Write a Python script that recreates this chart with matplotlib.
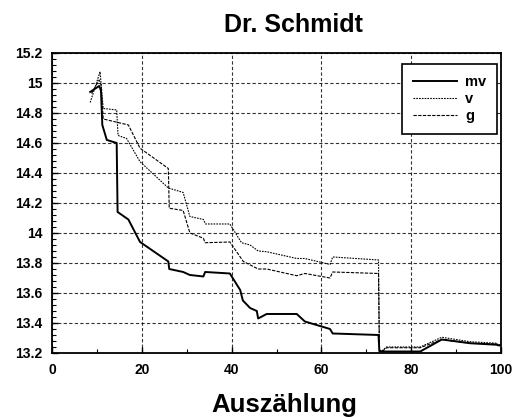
import matplotlib.pyplot as plt
from matplotlib.ticker import MultipleLocator, FormatStrFormatter
import numpy as np

plt.rcParams['font.family'] = ['Liberation Sans', 'DejaVu Sans']
plt.rcParams['font.weight'] = 'bold'

mv_x = [8.5, 10.5, 10.9, 11.2, 12.2, 14.4, 14.6, 17.0, 19.6, 25.9, 26.1, 29.2, 30.7,
        33.7, 34.1, 39.6, 41.9, 42.5, 44.1, 45.6, 45.9, 47.8, 54.5, 56.3, 61.9,
        62.5, 72.7, 72.9, 74.5, 82.0, 86.8, 93.1, 99.0, 99.5, 100]
mv_y = [14.94, 14.98, 14.95, 14.72, 14.62, 14.60, 14.14, 14.09, 13.94, 13.81, 13.76,
        13.74, 13.72, 13.71, 13.74, 13.73, 13.62, 13.55, 13.50, 13.48, 13.43, 13.46,
        13.46, 13.41, 13.36, 13.33, 13.32, 13.21, 13.21, 13.21, 13.29, 13.265,
        13.255, 13.25, 13.255]

v_x = [8.5, 10.7, 11.4, 14.4, 14.7, 16.6, 19.6, 25.9, 29.2, 30.7, 33.7, 34.2, 39.6,
       42.2, 44.1, 45.9, 47.8, 54.5, 56.3, 61.9, 62.5, 72.7, 72.9, 73.3, 74.5, 82.0,
       86.8, 93.1, 99.0, 99.5, 100]
v_y = [14.87, 15.075, 14.83, 14.82, 14.65, 14.63, 14.475, 14.30, 14.27, 14.11, 14.09,
       14.06, 14.06, 13.935, 13.92, 13.88, 13.875, 13.83, 13.83, 13.79, 13.84, 13.82,
       13.22, 13.21, 13.24, 13.24, 13.305, 13.275, 13.265, 13.25, 13.26]

g_x = [8.8, 10.5, 10.9, 11.4, 17.0, 19.6, 25.9, 26.1, 29.2, 30.7, 33.7, 34.1, 39.6,
       42.6, 45.9, 47.8, 54.5, 56.3, 61.9, 62.5, 72.7, 72.9, 73.5, 74.5, 82.0, 86.8,
       93.1, 99.0, 99.5, 100]
g_y = [14.93, 15.02, 14.99, 14.76, 14.72, 14.565, 14.43, 14.165, 14.15, 14.00, 13.965,
       13.935, 13.94, 13.81, 13.76, 13.76, 13.715, 13.73, 13.70, 13.74, 13.73, 13.22,
       13.21, 13.235, 13.235, 13.29, 13.265, 13.26, 13.245, 13.255]

fig = plt.figure(figsize=(5.15, 4.17), dpi=100)
ax = fig.add_axes([0.101, 0.1535, 0.872, 0.7195])

ax.plot(mv_x, mv_y, color='black', lw=1.4, label='mv')
ax.plot(v_x, v_y, color='black', lw=0.8, ls=(0, (1.5, 1)), label='v')
ax.plot(g_x, g_y, color='black', lw=0.8, ls=(0, (3, 1.2)), label='g')

ax.set_xlim(0, 100)
ax.set_ylim(13.2, 15.2)
ax.xaxis.set_major_locator(MultipleLocator(20))
ax.xaxis.set_minor_locator(MultipleLocator(10))
ax.yaxis.set_major_locator(MultipleLocator(0.2))
ax.yaxis.set_minor_locator(MultipleLocator(0.04))
ax.yaxis.set_major_formatter(FormatStrFormatter('%g'))
ax.tick_params(which='both', direction='in', top=False, right=False,
               labelsize=10, pad=7)
ax.tick_params(which='major', length=4, width=1)
ax.tick_params(which='minor', length=3, width=0.8)
for lab in ax.get_xticklabels() + ax.get_yticklabels():
    lab.set_fontweight('bold')
for sp in ax.spines.values():
    sp.set_linewidth(1.3)

ax.grid(True, which='major', color='black', lw=0.8, ls=(0, (3, 2)), alpha=0.8)

leg = ax.legend(loc='upper left', bbox_to_anchor=(0.779, 0.962), fancybox=False,
                edgecolor='black', framealpha=1, fontsize=10.5, handlelength=3.0,
                labelspacing=0.2, borderpad=0.75, handletextpad=0.6,
                borderaxespad=0)
leg.get_frame().set_linewidth(1.2)
for t in leg.get_texts():
    t.set_fontweight('bold')

fig.text(0.570, 0.924, 'Dr. Schmidt', ha='center', va='baseline',
         fontsize=18, fontweight='bold')
fig.text(0.553, 0.012, 'Auszählung', ha='center', va='baseline',
         fontsize=18.5, fontweight='bold')

fig.savefig('out.png', dpi=100)
